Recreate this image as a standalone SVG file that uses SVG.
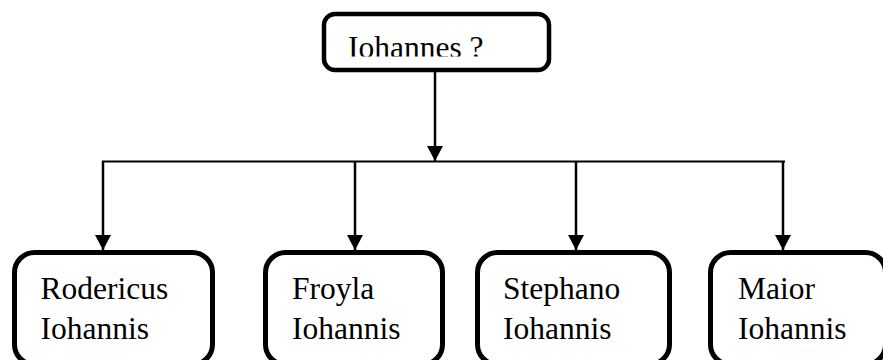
<svg xmlns="http://www.w3.org/2000/svg" width="883" height="360" viewBox="0 0 883 360">
<style>
.box{fill:#fff;stroke:#000;stroke-width:5}
.top{fill:#fff;stroke:#000;stroke-width:4.5}
.t{font-family:"Liberation Serif","Times New Roman",serif;font-size:31.5px;fill:#000}
.ln{stroke:#000;stroke-width:2.5;fill:none}
.h{stroke:#000;stroke-width:2;fill:none}
</style>
<defs>
<marker id="ah" markerUnits="userSpaceOnUse" markerWidth="16" markerHeight="16" viewBox="0 0 16 16" refX="15" refY="8" orient="auto">
<path d="M0,0 L15,8 L0,16 Z" fill="#000"/>
</marker>
<clipPath id="clipTop"><rect x="0" y="0" width="883" height="56.5"/></clipPath>
</defs>
<rect width="883" height="360" fill="#fff"/>
<g id="connectors">
<line class="ln" x1="435" y1="72" x2="435" y2="161" marker-end="url(#ah)"/>
<line class="h" x1="102" y1="161.5" x2="785" y2="161.5"/>
<line class="ln" x1="103" y1="161" x2="103" y2="250" marker-end="url(#ah)"/>
<line class="ln" x1="355" y1="161" x2="355" y2="250" marker-end="url(#ah)"/>
<line class="ln" x1="576" y1="161" x2="576" y2="250" marker-end="url(#ah)"/>
<line class="ln" x1="783" y1="161" x2="783" y2="250" marker-end="url(#ah)"/>
</g>
<g id="node-iohannes">
<rect class="top" x="324" y="14" width="225" height="56" rx="11"/>
<text class="t" x="348" y="58" clip-path="url(#clipTop)">Iohannes ?</text>
</g>
<g id="node-rodericus">
<rect class="box" x="14.5" y="252.5" width="198" height="112" rx="20"/>
<text class="t" x="40.5" y="299">Rodericus</text>
<text class="t" x="40.5" y="339">Iohannis</text>
</g>
<g id="node-froyla">
<rect class="box" x="265.5" y="252.5" width="177" height="112" rx="20"/>
<text class="t" x="292" y="299">Froyla</text>
<text class="t" x="292" y="339">Iohannis</text>
</g>
<g id="node-stephano">
<rect class="box" x="477.5" y="252.5" width="192" height="112" rx="20"/>
<text class="t" x="503" y="299">Stephano</text>
<text class="t" x="503" y="339">Iohannis</text>
</g>
<g id="node-maior">
<rect class="box" x="710.5" y="252.5" width="175" height="112" rx="20"/>
<text class="t" x="738" y="299">Maior</text>
<text class="t" x="738" y="339">Iohannis</text>
</g>
</svg>
